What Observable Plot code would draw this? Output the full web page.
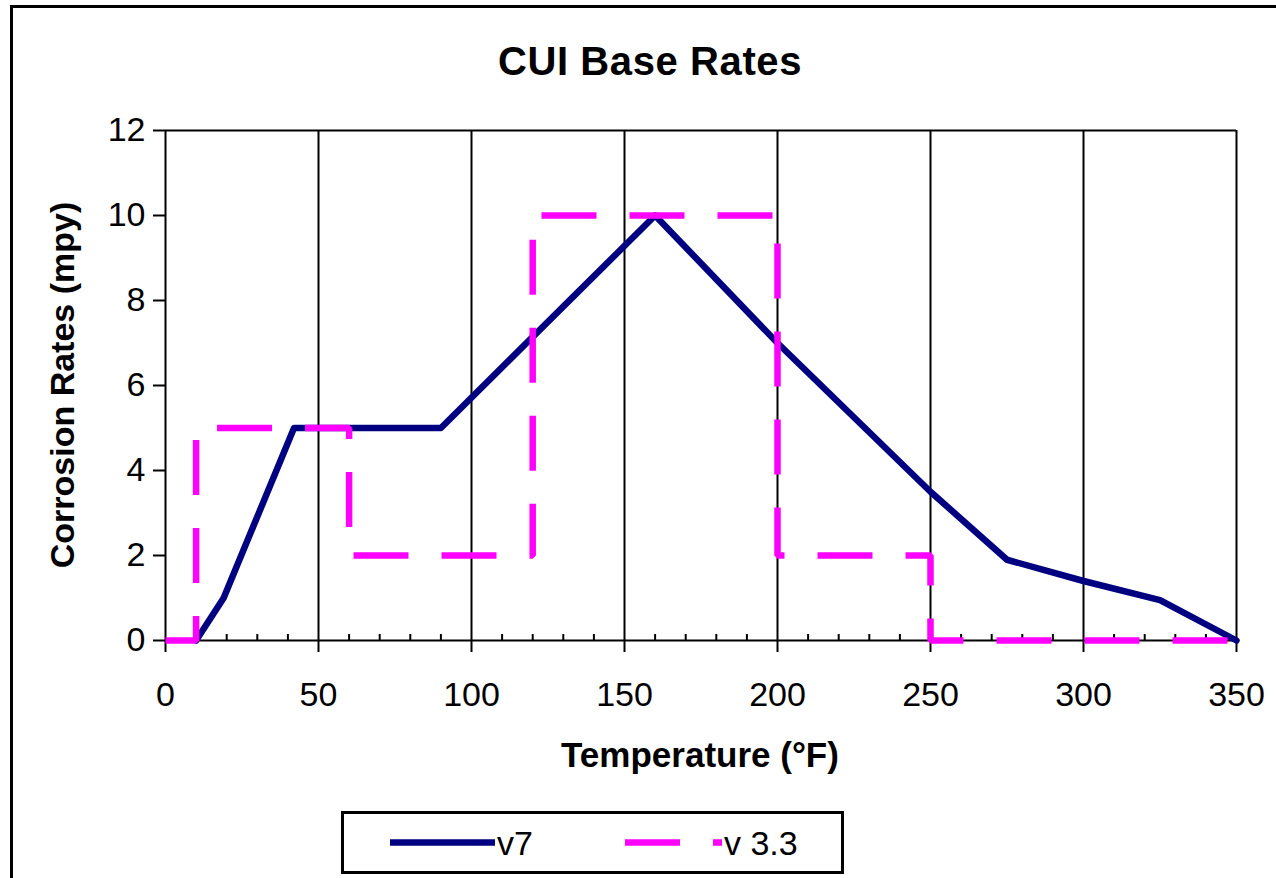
<!DOCTYPE html>
<html><head><meta charset="utf-8">
<script src="https://cdn.jsdelivr.net/npm/d3@7"></script>
<script src="https://cdn.jsdelivr.net/npm/@observablehq/plot@0.6"></script>
<style>
body{margin:0;background:#fff;}
#wrap{position:relative;width:1276px;height:878px;overflow:hidden;font-family:"Liberation Sans",Arial,sans-serif;color:#000;background:#fff;}
#bl{position:absolute;left:10px;top:5px;width:3px;height:900px;background:#000;}
#bt{position:absolute;left:10px;top:5px;width:1300px;height:3px;background:#000;}
#chart{position:absolute;left:0;top:0;}
.t{position:absolute;white-space:nowrap;text-align:center;font-weight:bold;}
#title{left:0;width:1300px;top:41px;font-size:40px;line-height:40px;letter-spacing:0.6px;}
#xt{left:450px;width:500px;top:737px;font-size:35px;line-height:35px;}
#yt{left:-188px;width:500px;top:368px;font-size:34px;line-height:34px;transform:rotate(-90deg);}
#legend{position:absolute;left:341px;top:811px;}
</style>
</head><body>
<div id="wrap">
  <div id="chart"></div>
  <div id="bl"></div><div id="bt"></div>
  <div id="title" class="t">CUI Base Rates</div>
  <div id="xt" class="t">Temperature (°F)</div>
  <div id="yt" class="t">Corrosion Rates (mpy)</div>
  <div id="legend"></div>
</div>
<script>
// Data
const v7Temp = [10, 19, 42, 90, 160, 200, 250, 275, 300, 325, 350];
const v7Rate = [0, 1, 5, 5, 10, 7, 3.5, 1.9, 1.4, 0.95, 0];
const v33Temp = [0, 10, 10, 60, 60, 120, 120, 200, 200, 250, 250, 350];
const v33Rate = [0, 0, 5, 5, 2, 2, 10, 10, 2, 2, 0, 0];
const xTicks = [0, 50, 100, 150, 200, 250, 300, 350];
const yTicks = [0, 2, 4, 6, 8, 10, 12];
const xMinor = d3.range(0, 351, 10).filter(d => d % 50 !== 0);
const seriesNames = ["v7", "v 3.3"];
const seriesColors = ["#000080", "#ff00ff"];

const v7 = v7Temp.map((t, i) => ({t, r: v7Rate[i]}));
const v33 = v33Temp.map((t, i) => ({t, r: v33Rate[i]}));

const chart = Plot.plot({
  width: 1276, height: 878,
  marginLeft: 165, marginRight: 40, marginTop: 130, marginBottom: 238,
  x: {domain: [0, 350]},
  y: {domain: [0, 12]},
  style: {fontFamily: '"Liberation Sans", Arial, sans-serif', fontSize: "34px", color: "#000", background: "transparent"},
  marks: [
    Plot.ruleX(xTicks.slice(1), {stroke: "#000", strokeWidth: 2}),
    Plot.ruleY([12], {stroke: "#000", strokeWidth: 2}),
    Plot.axisX({ticks: xMinor, tickSize: 6, dy: -6, tickFormat: () => "", label: null, stroke: "#000", strokeWidth: 2}),
    Plot.axisX({ticks: xTicks, tickSize: 12, tickPadding: 29, tickFormat: d => String(d), label: null, stroke: "#000", strokeWidth: 2, fontSize: 34, fill: "#000"}),
    Plot.axisY({ticks: yTicks, tickSize: 12, tickPadding: 8, tickFormat: d => String(d), label: null, stroke: "#000", strokeWidth: 2, fontSize: 34, fill: "#000"}),
    Plot.ruleX([0], {stroke: "#000", strokeWidth: 2}),
    Plot.ruleY([0], {stroke: "#000", strokeWidth: 2}),
    Plot.line(v7, {x: "t", y: "r", stroke: seriesColors[0], strokeWidth: 6.5, strokeLinejoin: "round"}),
    Plot.line(v33, {x: "t", y: "r", stroke: seriesColors[1], strokeWidth: 6.5, strokeDasharray: "55,33", strokeLinecap: "butt", strokeLinejoin: "miter"})
  ]
});
document.getElementById("chart").appendChild(chart);

// Legend
const ns = "http://www.w3.org/2000/svg";
const lg = document.createElementNS(ns, "svg");
lg.setAttribute("width", 504); lg.setAttribute("height", 64);
lg.innerHTML = `
  <rect x="1.5" y="1.5" width="500" height="60" fill="#fff" stroke="#000" stroke-width="3"/>
  <line x1="49" x2="154" y1="31.5" y2="31.5" stroke="${seriesColors[0]}" stroke-width="6.5"/>
  <text x="156" y="44" font-size="34" font-family="Liberation Sans, Arial, sans-serif">${seriesNames[0]}</text>
  <line x1="284" x2="381" y1="31.5" y2="31.5" stroke="${seriesColors[1]}" stroke-width="6.5" stroke-dasharray="55,33"/>
  <text x="383" y="44" font-size="34" font-family="Liberation Sans, Arial, sans-serif">${seriesNames[1]}</text>`;
document.getElementById("legend").appendChild(lg);
</script>
</body></html>
